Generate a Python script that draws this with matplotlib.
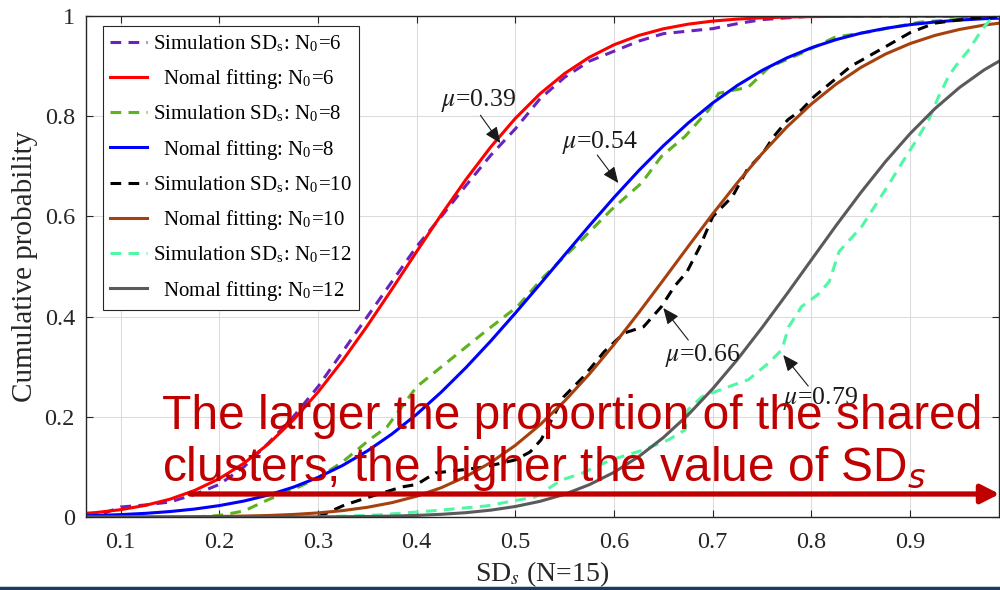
import matplotlib
matplotlib.use("Agg")
import matplotlib.pyplot as plt
from matplotlib.lines import Line2D

plt.rcParams['font.family'] = ['Liberation Serif', 'DejaVu Serif']
plt.rcParams['mathtext.fontset'] = 'stix'

# ---------------- data ----------------
# shared x grid for the normal-fit curves
fit_x = [0.050, 0.075, 0.100, 0.125, 0.150, 0.175, 0.200, 0.225, 0.250, 0.275,
         0.300, 0.325, 0.350, 0.375, 0.400, 0.425, 0.450, 0.475, 0.500, 0.525,
         0.550, 0.575, 0.600, 0.625, 0.650, 0.675, 0.700, 0.725, 0.750, 0.775,
         0.800, 0.825, 0.850, 0.875, 0.900, 0.925, 0.950, 0.975, 1.000]

fit_n6 = [0.0053, 0.0089, 0.0146, 0.0232, 0.0355, 0.0530, 0.0765, 0.1073, 0.1462, 0.1936,
          0.2492, 0.3124, 0.3817, 0.4550, 0.5299, 0.6037, 0.6740, 0.7386, 0.7959, 0.8450,
          0.8855, 0.9179, 0.9428, 0.9614, 0.9747, 0.9839, 0.9901, 0.9941, 0.9966, 0.9981,
          0.9990, 0.9994, 0.9997, 0.9999, 1.0, 1.0, 1.0, 1.0, 1.0]
fit_n8 = [0.0020, 0.0031, 0.0048, 0.0073, 0.0109, 0.0159, 0.0228, 0.0319, 0.0440, 0.0595,
          0.0790, 0.1030, 0.1318, 0.1658, 0.2050, 0.2495, 0.2984, 0.3512, 0.4071, 0.4649,
          0.5235, 0.5816, 0.6380, 0.6915, 0.7412, 0.7864, 0.8267, 0.8617, 0.8916, 0.9165,
          0.9369, 0.9531, 0.9659, 0.9756, 0.9829, 0.9882, 0.9921, 0.9948, 0.9966]
fit_n10 = [0.0, 0.0, 0.0001, 0.0002, 0.0003, 0.0006, 0.0011, 0.0019, 0.0031, 0.0051,
           0.0082, 0.0128, 0.0194, 0.0287, 0.0415, 0.0586, 0.0808, 0.1088, 0.1431, 0.1841,
           0.2317, 0.2855, 0.3446, 0.4078, 0.4734, 0.5398, 0.6052, 0.6676, 0.7257, 0.7785,
           0.8246, 0.8643, 0.8974, 0.9242, 0.9452, 0.9614, 0.9734, 0.9821, 0.9883]
fit_n12 = [0.0, 0.0, 0.0, 0.0, 0.0, 0.0, 0.0, 0.0, 0.0001, 0.0002,
           0.0003, 0.0006, 0.0011, 0.0019, 0.0032, 0.0054, 0.0087, 0.0137, 0.0210, 0.0313,
           0.0455, 0.0646, 0.0893, 0.1206, 0.1587, 0.2039, 0.2562, 0.3146, 0.3783, 0.4451,
           0.5136, 0.5820, 0.6477, 0.7095, 0.7655, 0.8151, 0.8575, 0.8927, 0.9213]

sim6_x = [0.065, 0.08, 0.1, 0.125, 0.15, 0.175, 0.2, 0.225, 0.25, 0.275, 0.3, 0.325, 0.35,
          0.375, 0.4, 0.425, 0.45, 0.475, 0.5, 0.525, 0.55, 0.575, 0.6, 0.625, 0.65, 0.7,
          0.725, 0.75, 0.8, 0.85, 1.0]
sim6_y = [0.0, 0.005, 0.02, 0.024, 0.03, 0.045, 0.065, 0.10, 0.148, 0.20, 0.26, 0.33, 0.40,
          0.47, 0.54, 0.60, 0.662, 0.722, 0.775, 0.835, 0.878, 0.91, 0.93, 0.95, 0.965, 0.975,
          0.985, 0.993, 1.0, 1.0, 1.0]

sim8_x = [0.175, 0.2, 0.225, 0.25, 0.275, 0.3, 0.325, 0.352, 0.37, 0.4, 0.434, 0.468, 0.502,
          0.529, 0.567, 0.597, 0.628, 0.648, 0.672, 0.696, 0.706, 0.736, 0.757, 0.79, 0.824,
          0.857, 0.91, 0.96, 0.99]
sim8_y = [0.0, 0.003, 0.012, 0.035, 0.055, 0.078, 0.11, 0.154, 0.18, 0.26, 0.314, 0.368, 0.42,
          0.48, 0.553, 0.613, 0.667, 0.72, 0.76, 0.813, 0.846, 0.858, 0.898, 0.926, 0.958,
          0.968, 0.988, 0.995, 1.0]

sim10_x = [0.30, 0.327, 0.352, 0.385, 0.40, 0.419, 0.45, 0.469, 0.50, 0.515, 0.526, 0.549,
           0.569, 0.59, 0.61, 0.63, 0.648, 0.661, 0.674, 0.687, 0.70, 0.72, 0.735, 0.751,
           0.762, 0.776, 0.79, 0.803, 0.824, 0.84, 0.858, 0.876, 0.90, 0.925, 0.96, 0.99]
sim10_y = [0.0, 0.024, 0.04, 0.06, 0.065, 0.088, 0.095, 0.10, 0.114, 0.13, 0.154, 0.24,
           0.28, 0.33, 0.367, 0.38, 0.42, 0.46, 0.49, 0.54, 0.60, 0.64, 0.694, 0.727,
           0.76, 0.793, 0.813, 0.84, 0.874, 0.90, 0.92, 0.94, 0.967, 0.986, 0.995, 1.0]

sim12_x = [0.30, 0.36, 0.42, 0.47, 0.52, 0.547, 0.567, 0.597, 0.63, 0.655, 0.672, 0.675,
           0.689, 0.716, 0.736, 0.757, 0.77, 0.777, 0.79, 0.807, 0.818, 0.828, 0.851, 0.864,
           0.877, 0.892, 0.905, 0.919, 0.929, 0.939, 0.946, 0.96, 0.973, 0.98, 0.99, 1.0]
sim12_y = [0.0, 0.004, 0.013, 0.022, 0.04, 0.074, 0.087, 0.114, 0.134, 0.154, 0.174, 0.214,
           0.24, 0.26, 0.274, 0.308, 0.334, 0.38, 0.42, 0.445, 0.47, 0.53, 0.58, 0.62,
           0.66, 0.708, 0.748, 0.794, 0.84, 0.88, 0.9, 0.934, 0.974, 0.99, 1.0, 1.0]

n0_values = [6, 8, 10, 12]
mu_labels = ["0.39", "0.54", "0.66", "0.79"]
x_ticks = [0.1, 0.2, 0.3, 0.4, 0.5, 0.6, 0.7, 0.8, 0.9]
y_ticks = [0, 0.2, 0.4, 0.6, 0.8, 1]
y_ticklabels = ["0", "0.2", "0.4", "0.6", "0.8", "1"]

# ---------------- figure ----------------
fig = plt.figure(figsize=(10, 5.9), dpi=100)
ax = fig.add_axes([0.086, 0.1237, 0.913, 0.849])

sim_colors = ['#6A22BE', '#5DB31E', '#000000', '#52F7A5']
fit_colors = ['#FF0000', '#0000FF', '#A5410E', '#5A5A5A']
sims = [(sim6_x, sim6_y), (sim8_x, sim8_y), (sim10_x, sim10_y), (sim12_x, sim12_y)]
fits = [fit_n6, fit_n8, fit_n10, fit_n12]
dash = (0, (3.5, 2.4))

for i, n0 in enumerate(n0_values):
    sx, sy = sims[i]
    ax.plot(sx, sy, color=sim_colors[i], lw=2.2, linestyle=dash,
            label=r"Simulation SD$_\mathregular{s}$: N$_\mathregular{0}$=%d" % n0)
    ax.plot(fit_x, fits[i], color=fit_colors[i], lw=2.2,
            label=r"  Nomal fitting: N$_\mathregular{0}$=%d" % n0)

ax.set_xlim(0.065, 0.99)
ax.set_ylim(0, 1)
ax.set_xticks(x_ticks)
ax.set_xticklabels([f"{t:g}" for t in x_ticks])
ax.set_yticks(y_ticks)
ax.set_yticklabels(y_ticklabels)
ax.grid(True, color='#DCDCDC', lw=0.8)
ax.set_axisbelow(True)
ax.tick_params(direction='in', length=5, width=0.8, top=True, right=True,
               labelsize=17.5, colors='#262626')
ax.tick_params(axis='x', pad=11)
ax.tick_params(axis='y', pad=8)
for s in ax.spines.values():
    s.set_color('#262626')
    s.set_linewidth(1.0)

ax.set_ylabel("Cumulative probability", fontsize=21, color='#262626', labelpad=5)
ax.set_xlabel(r"SD$_s$ (N=15)", fontsize=20, color='#262626', labelpad=4)

leg = ax.legend(loc='upper left', bbox_to_anchor=(0.0186, 0.98), borderaxespad=0,
                fontsize=15, frameon=True, fancybox=False, framealpha=1,
                edgecolor='#262626', handlelength=1.75, handletextpad=0.3,
                labelspacing=0.62, borderpad=0.35)
leg.get_frame().set_linewidth(0.8)

# mu annotations
mu_text_pos = [(0.4625, 0.832), (0.586, 0.7485), (0.6894, 0.3234), (0.8089, 0.2375)]
mu_arrow_start = [(0.4646, 0.802), (0.583, 0.7226), (0.6752, 0.3533), (0.7967, 0.2615)]
mu_arrow_end = [(0.4848, 0.7465), (0.6043, 0.6667), (0.6499, 0.4172), (0.7714, 0.3234)]
for lab, tp, a0, a1 in zip(mu_labels, mu_text_pos, mu_arrow_start, mu_arrow_end):
    ax.text(tp[0], tp[1], r"$\mu$=" + lab, fontsize=18.5, ha='center', va='center',
            color='#1a1a1a', zorder=6)
    ax.annotate('', xy=a1, xytext=a0,
                arrowprops=dict(arrowstyle='-|>,head_length=0.7,head_width=0.3',
                                lw=0.8, color='#1a1a1a', shrinkA=0, shrinkB=0,
                                mutation_scale=14), zorder=6)

# red message text and arrow
red = '#C00000'
fig.text(0.162, 1 - 429 / 590, "The larger the proportion of the shared",
         fontsize=34.5, color=red, family='Liberation Sans', va='baseline', ha='left',
         zorder=10)
fig.text(0.162, 1 - 481 / 590, r"clusters, the higher the value of SD$_{s}$",
         fontsize=34.5, color=red, family='Liberation Sans', va='baseline', ha='left',
         math_fontfamily='dejavusans', zorder=10)
fig.add_artist(matplotlib.patches.FancyArrowPatch(
    (0.190, 1 - 494 / 590), (0.9995, 1 - 494 / 590), transform=fig.transFigure,
    arrowstyle='-|>,head_length=0.55,head_width=0.28', mutation_scale=20,
    lw=3.8, color=red, shrinkA=0, shrinkB=0, zorder=10))

# bottom slide border line
fig.add_artist(Line2D([0, 1], [1 - 588 / 590, 1 - 588 / 590], transform=fig.transFigure,
                      color='#1F3864', lw=2.5))

fig.savefig("out.png", dpi=100)
